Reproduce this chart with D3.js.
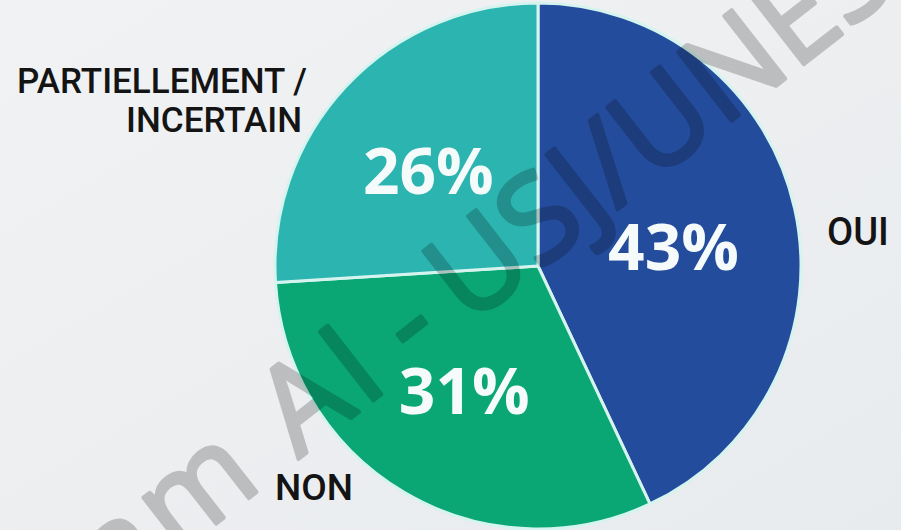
<!DOCTYPE html>
<html>
<head>
<meta charset="utf-8">
<script src="https://cdn.jsdelivr.net/npm/d3@7"></script>
<style>
  html, body { margin: 0; padding: 0; background: #eef0f2; }
  svg { display: block; }
</style>
</head>
<body>
<svg id="chart"></svg>
<script>
// dimensions
var svgWidth = 901;
var svgHeight = 530;

// chart data
var categories = ["OUI", "NON", "PARTIELLEMENT / INCERTAIN"];
var values = [43, 31, 26];
var percentLabels = ["43%", "31%", "26%"];
var nameLines = [["OUI"], ["NON"], ["PARTIELLEMENT /", "INCERTAIN"]];

// styling
var colors = ["#244c9c", "#0aa775", "#2cb4b0"];
var center = { x: 538, y: 266 };
var radius = 263;

// where the category names sit (relative to pie center) and how they align
var namePos = [
  { dx: 289, dy: -21, anchor: "start", size: 38 },
  { dx: -263, dy: 234, anchor: "start", size: 37 },
  { dx: -231, dy: -173, anchor: "end", size: 35 }
];
// small nudges for the percent labels
var pctNudge = [[-6, 13], [0, 0], [-4, 4]];

var svg = d3.select("#chart")
  .attr("width", svgWidth)
  .attr("height", svgHeight);

// background with a faint gradient
var defs = svg.append("defs");
var grad = defs.append("linearGradient")
  .attr("id", "bg")
  .attr("x1", "0").attr("y1", "0")
  .attr("x2", "1").attr("y2", "1");
grad.append("stop").attr("offset", "0%").attr("stop-color", "#f1f2f3");
grad.append("stop").attr("offset", "100%").attr("stop-color", "#e8ebee");

svg.append("rect")
  .attr("width", svgWidth)
  .attr("height", svgHeight)
  .attr("fill", "url(#bg)");

var data = categories.map(function(c, i) {
  return { name: c, value: values[i], label: percentLabels[i], lines: nameLines[i] };
});

var pie = d3.pie()
  .sort(null)
  .value(d => d.value);

var arc = d3.arc()
  .innerRadius(0)
  .outerRadius(radius);

var labelArc = d3.arc()
  .innerRadius(145)
  .outerRadius(145);

var pieGroup = svg.append("g")
  .attr("transform", `translate(${center.x}, ${center.y})`);

var arcs = pie(data);

pieGroup.selectAll(".slice")
  .data(arcs)
  .enter()
  .append("path")
  .attr("class", "slice")
  .attr("d", arc)
  .attr("fill", (d, i) => colors[i])
  .attr("stroke", "#d6f4ef")
  .attr("stroke-width", 3)
  .attr("stroke-linejoin", "round");

// percent labels inside the slices
pieGroup.selectAll(".pct")
  .data(arcs)
  .enter()
  .append("text")
  .attr("class", "pct")
  .attr("x", (d, i) => labelArc.centroid(d)[0] + pctNudge[i][0])
  .attr("y", (d, i) => labelArc.centroid(d)[1] + pctNudge[i][1])
  .attr("dy", "0.36em")
  .attr("text-anchor", "middle")
  .attr("font-family", "'Open Sans', sans-serif")
  .attr("font-weight", 700)
  .attr("font-size", 64)
  .attr("fill", "#f4fbfa")
  .text(d => d.data.label);

// category names outside the pie
var names = pieGroup.selectAll(".name")
  .data(arcs)
  .enter()
  .append("text")
  .attr("class", "name")
  .attr("x", (d, i) => namePos[i].dx)
  .attr("y", (d, i) => namePos[i].dy)
  .attr("text-anchor", (d, i) => namePos[i].anchor)
  .attr("font-family", "Roboto, sans-serif")
  .attr("font-weight", 500)
  .attr("font-size", (d, i) => namePos[i].size)
  .attr("fill", "#141414");

names.each(function(d, i) {
  var t = d3.select(this);
  d.data.lines.forEach(function(line, j) {
    t.append("tspan")
      .attr("x", namePos[i].dx - (j > 0 ? 5 : 0))
      .attr("dy", j === 0 ? 0 : 39)
      .text(line);
  });
});

// watermark across the picture (group opacity so fill + stroke stay even)
var wm = svg.append("g")
  .attr("transform", "translate(411, 328) rotate(-38)")
  .attr("opacity", 0.2)
  .attr("fill", "#000")
  .attr("stroke", "#000")
  .attr("stroke-width", 4)
  .attr("stroke-linejoin", "round")
  .attr("font-family", "'Open Sans', sans-serif")
  .attr("font-size", 122);

wm.append("text").attr("x", -46).attr("y", 34).attr("text-anchor", "end")
  .attr("letter-spacing", 6).text("Program AI");
wm.append("text").attr("x", 0).attr("y", 34).attr("text-anchor", "middle").text("-");
wm.append("text").attr("x", 46).attr("y", 34).attr("text-anchor", "start").text("USJ/UNESCO");
</script>
</body>
</html>
